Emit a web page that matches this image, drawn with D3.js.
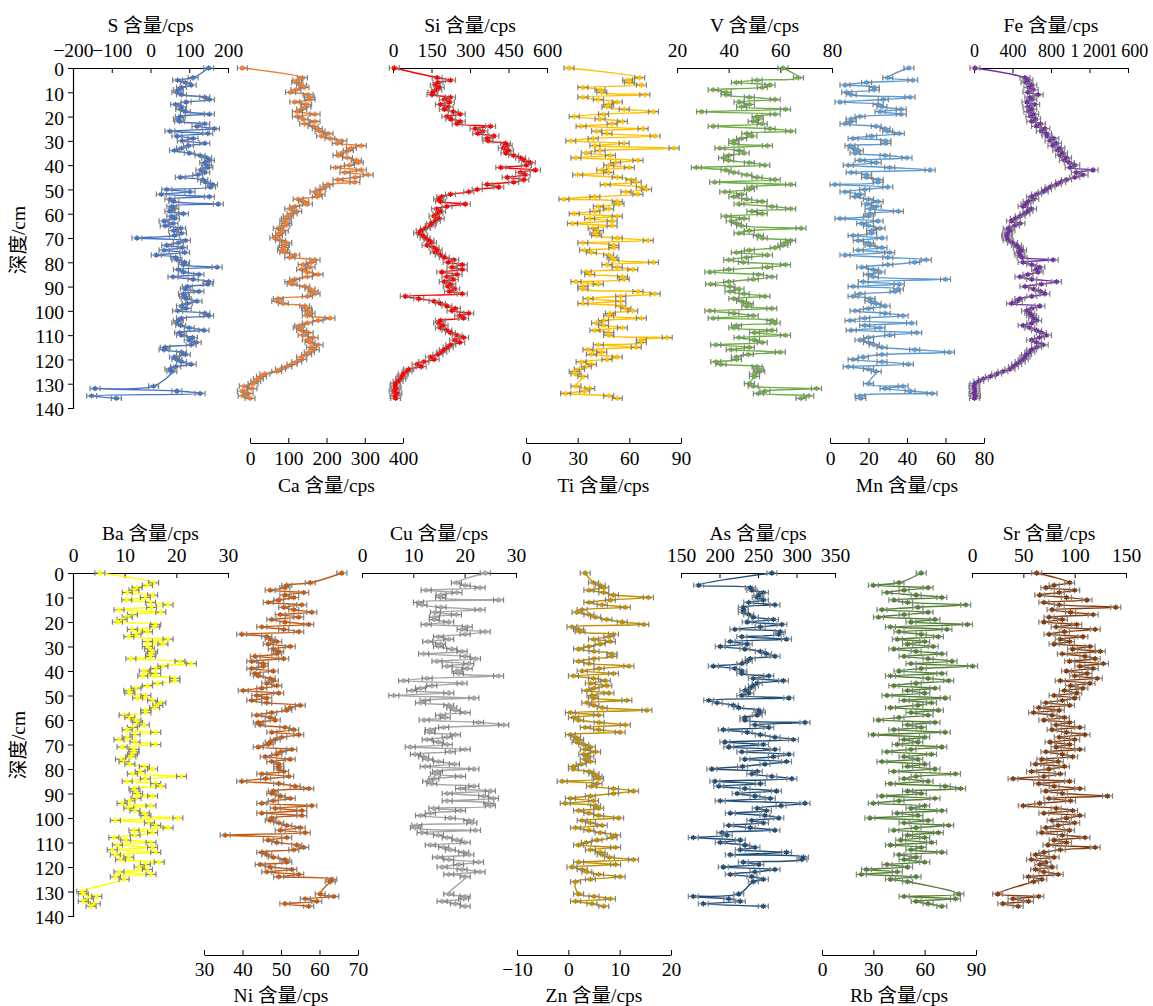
<!DOCTYPE html>
<html><head><meta charset="utf-8">
<script src="https://cdn.jsdelivr.net/npm/d3@7"></script>
<style>
body{margin:0;background:#fff}
text{font-family:"Liberation Serif","Times New Roman","Noto Sans CJK SC",serif;fill:#000}
</style>
</head><body><svg id="c" width="1153" height="1006"></svg>
<script>
// ---------------- DATA ----------------
const depths = [0,
4,5,6,7,8,9,
10,11,12,13,14,15,16,17,18,19,
20,21,22,23,24,25,26,27,28,29,
30,31,32,33,34,35,36,37,38,39,
40,41,42,43,44,45,46,47,48,49,
50,51,52,53,54,55,56,57,58,59,
60,61,62,63,64,65,66,67,68,69,
70,71,72,73,74,75,76,77,78,79,
80,81,82,83,84,85,86,87,88,89,
90,91,92,93,94,95,96,97,98,99,
100,101,102,103,104,105,106,107,108,109,
110,111,112,113,114,115,116,117,118,119,
120,121,122,123,124,125,126,127,128,129,
130,131,132,133,134,135,136];

const S = [150,
110,70,90,105,80,72,
68,80,140,152,92,65,80,78,90,152,
77,72,75,140,120,165,50,148,68,110,
82,140,98,80,62,100,128,145,152,140,
145,148,130,140,122,77,135,142,160,155,
42,102,28,152,50,60,175,55,60,50,
85,55,62,35,58,38,78,60,80,62,
-35,90,72,42,82,35,88,15,65,68,
88,85,172,72,85,125,58,110,150,148,
95,90,125,85,88,92,120,95,80,92,
70,140,150,80,72,68,78,100,138,75,
80,108,100,118,105,38,35,80,90,62,
68,80,105,65,50,55,null,null,null,null,
null,8,-143,68,128,-152,-88];

const Ca = [-20,
137,125,122,135,141,120,
106,152,155,157,117,148,146,135,124,170,
124,139,170,143,165,176,183,204,187,209,
240,228,291,265,257,240,230,255,278,283,
260,224,291,248,309,275,230,274,204,196,
185,170,183,176,126,140,150,117,104,122,
110,100,95,91,96,91,74,87,80,72,
65,80,96,90,87,85,91,117,104,170,
160,139,157,135,150,178,150,117,104,110,
143,157,165,170,150,74,70,87,143,148,
150,157,150,209,178,150,130,126,135,152,
139,165,150,157,178,161,168,155,148,135,
135,122,110,96,80,70,39,30,22,15,
8,-15,5,-20,-5,-18,0];

const Si = [5,
172,224,175,165,180,170,
155,152,224,200,220,185,215,200,235,262,
210,225,262,250,380,320,350,330,393,367,
370,438,445,430,450,440,470,497,510,535,
520,420,555,497,515,445,510,470,367,412,
328,295,224,190,178,185,282,210,170,185,
175,160,180,165,150,145,126,110,100,115,
125,140,150,133,160,172,165,185,200,237,
215,270,230,270,190,250,210,235,200,225,
215,240,220,270,48,100,160,185,210,243,
230,295,260,275,185,178,195,185,210,224,
250,275,240,260,225,215,200,190,175,146,
160,120,94,110,61,55,40,35,30,20,
10,8,12,5,15,8,10];

const Ti = [25,
66,59,60,67,33,43,
44,69,33,42,53,48,47,57,74,45,
28,43,56,50,32,68,41,47,75,39,
26,57,40,86,43,35,49,29,65,52,
48,60,44,48,30,53,61,64,46,67,
70,58,65,40,22,53,54,42,48,40,
28,53,37,50,27,50,39,42,40,41,
53,71,33,51,51,34,38,48,50,51,
74,47,53,62,35,37,56,57,29,42,
33,33,65,75,55,36,55,33,55,58,
62,49,48,67,45,41,45,56,40,48,
48,82,67,67,42,64,36,44,38,53,
47,32,38,35,31,28,29,33,null,null,
null,29,37,34,23,48,53];

const V = [61,
67,51,43,56,53,34,
39,39,48,58,44,48,45,62,29.5,58,
51,51.5,49.5,53,34,56,64,47,49,45,
42,42,55,36.6,44,46,40,38,40,48,
54,27.5,39,42,47,51,58,34.6,64,49,
48,38.5,45,42,47,53,44,56.7,64,49,
53,39,46,41,43,45,68,48,44,51.5,
53,64,62,61,58,48,43,55,47,40,
45.7,62,55,40,32.7,51.5,56.7,49.5,40,33,
40.5,44,40.5,46,54,42,45,47.6,47,56.7,
32.7,42,49.5,34,56.7,58,43,42,56.7,50,
62,44,50,53,35,48,41,60,47.6,43,
43,35,37,51,51.5,52,50,50,null,null,
48,49.5,74,54,51.5,71,68];

const Mn = [41,
30,43,19,7.8,23,23,
8.7,11,41.6,27.7,5.2,25,27,37,26,37,
15.6,11,11,7.8,24,28.6,30,36,21.6,12,
29,29,10.4,12,14.7,13,28.6,40,15.6,24,
9.5,31,52,11,19,19,25,25,2.6,30,
18,7.8,15.6,13,20,25,19,24,20.8,35.5,
20.8,20,5.2,25,16.5,20,26,21.6,21.6,12,
27,14.7,20,20.8,27,14.7,31,7.8,30,50,
44,30,16.5,22.5,26,20,22.5,60,17.3,36,
12,35.5,33.8,15.6,12,20.8,20.8,24,28.6,20,
13,28.6,38,18,10.4,42.4,18,26,11,45,
31,20,15.6,20,23,27,44,62,27,17.3,
12,27,40.7,9.5,20,24,null,null,null,null,
20,38,28.6,41.6,53,15.6,16];

const Fe = [10,
529,560,540,600,570,615,
560,667,580,600,550,630,560,600,570,620,
590,640,600,690,650,736,700,753,760,830,
790,857,820,892,870,920,900,961,940,990,
1047,1000,1237,1064,1133,1047,961,900,857,790,
753,719,650,598,620,563,540,511,598,560,
529,480,430,390,477,420,356,373,350,339,
345,356,400,442,460,494,470,477,500,823,
511,600,684,650,667,560,477,600,857,700,
529,620,690,736,600,477,450,390,684,600,
546,580,598,620,650,600,511,580,650,700,
753,680,598,650,719,650,598,580,546,530,
511,480,442,410,373,300,235,170,97,50,
10,0,5,10,0,15,5];

const Ba = [5.2,
15.6,14.4,12.4,11.8,10.5,15.4,
14,10.4,15,18.4,15.2,8.9,17,11.5,10.5,9.5,
8.6,16,15.8,11.5,14.4,12.2,10.8,18.4,14.4,17.4,
14.4,14.8,15.4,15.1,15,11.2,20.7,22.9,17.4,16,
13.8,16,13.5,19.7,19.7,16.4,14.4,12.2,10.8,11,
14.1,12.5,15.4,17,16.4,15.8,14.1,14.1,9.9,11,
12.2,12.5,13.8,11.5,10.5,16,12,10.5,8.9,12,
16,9.5,11.8,11.8,11.5,11.2,9.2,9.9,11,13.8,
15.4,13,11.5,21,14,10.5,16,17,11.8,12,
12.5,15.4,12.2,11,9.5,15.1,10.8,12,13.8,14.1,
20.3,8.2,14.8,16,18.4,11.8,15.4,12,7.9,10.2,
15.1,8.6,15.4,7.6,16,8.2,10.8,9.2,16.7,14,
12.8,14.4,8.9,15.1,8.2,9.9,null,null,null,null,
1.7,2,4.6,3,2,4.3,3.5];

const Ni = [65.8,
57.6,51.5,51,47.2,55.9,51,
53.3,49.4,46.7,55.4,50.7,53.3,58,49.8,54.6,47.6,
51,57.2,45,50.7,54.6,39.8,46.3,47.2,48.9,46.7,
52.4,48,49.4,48.9,43.3,50.7,42.4,45.4,45.4,42.4,
48,43.3,44.1,47.2,48,46.3,48.9,45,40.2,49.4,
43.7,46.3,42.4,46.3,55,52.4,51.5,47.6,43.7,47.2,
48.5,44.1,44.6,51,53.3,47.6,54.6,50.2,48.5,47.2,
46.7,44.1,52.8,50,48.9,45.9,52.4,47.6,49.4,49.4,
49.4,50.7,45,52,46,39.8,49.4,53.7,57.2,48,
47.6,49.8,52.4,48,45,58,48.5,55.4,45,55.4,
47.6,47.2,49.4,51.5,55,49.8,56.3,35.5,51.5,46.7,
48.9,54.1,55.9,53.3,45,46.3,48,51,51.5,44.6,
47.2,52.8,46.3,54.6,49.4,63.2,62.8,null,null,null,
null,60.2,63.7,56.3,59.3,51,57.2];

const Cu = [24,
18.4,20.1,23,12.5,18.5,15.4,
15.3,26.6,11,11.7,15.4,23,14.3,18.4,14.1,14.1,
16.9,12.5,20.5,19.5,24,20.1,14.9,16.9,12.8,15.3,
14.9,17.5,19.5,12,20.1,22.1,14.6,20.8,16.6,20.5,
18.5,18.8,26.6,12.7,8.1,19.5,13.6,11.4,9.7,16.9,
6.2,21.8,12.3,11.4,16.9,17.5,18.2,20.1,15.3,16.2,
12.1,22.7,27.6,15.9,13.3,13.2,18.2,16.6,12.7,14.9,
16.6,9.4,20.1,17.2,10.4,12,12.8,14.9,18,12.3,
21.8,14.7,14.3,19.2,14,12.8,13.6,21.8,19.2,25,
16.6,23.7,25.6,16.6,24.7,25,14,19.2,13.3,11.4,
17.2,20.8,21.4,10.7,10.4,22.1,11.7,14.9,16.6,18.5,
20.1,13.3,15.9,17.2,19.8,20.8,14.7,16.9,22.7,18.8,
15.6,19.5,23,16.9,20.1,null,null,null,null,null,
null,16.9,20.1,19.8,15.6,18.2,20.1];

const Zn = [3.3,
4.9,6.2,6.9,4,6.9,8.8,
15.6,8.2,4,6.6,11.1,2.7,1.7,4,5.3,7.5,
10.5,14.7,0.7,2,2.3,8.8,7.9,4.9,8.2,6.2,
4,2,5,8.5,8.5,5,2,4,11.8,6,
2.7,8.8,1,4.9,7.2,4.3,7.5,5,3.6,7.9,
4.6,4.9,11.4,3.6,5,6.6,15.3,0.4,5.9,1,
2,6,11.1,3.3,5.9,10.1,0.4,1.4,2,1.7,
3,4.3,3.3,5.3,3,4,3.3,4.3,2.5,1,
1,4,5,5.6,5.9,-1.2,5.6,4.5,8.8,12.7,
8.8,4.3,0.4,4.9,-0.6,5.3,5.9,2,4,5.9,
9.8,2.7,4.3,6.6,1.4,4,6.2,9.2,8.5,5.6,
3.5,2,9.2,4.3,6.2,6.6,8,12.7,2,9.2,
0.7,2.7,3.6,5.9,10.1,4.3,1.4,null,null,null,
null,2,5,8.2,1.4,4.6,6.9];

const As = [268,
null,173,240,242,257,251,
249,257,238,272,231,231,231,238,244,270,
236,281,253,220,279,277,229,287,214,236,
201,233,253,261,272,240,236,229,192,220,
229,229,264,244,283,249,244,240,233,238,
229,290,186,197,218,225,251,253,249,233,
233,311,246,264,205,236,253,272,296,207,
257,212,272,229,290,270,233,287,259,230,
190,249,242,268,294,194,253,199,233,274,
223,246,266,201,311,280,249,261,214,259,
277,242,257,212,240,272,203,210,166,227,
201,233,246,227,287,214,309,307,231,251,
205,272,246,214,242,257,244,null,null,null,
null,225,166,212,227,179,257];

const Rb = [58,
45,30,62,48,38,55,
70,42,50,84,56,35,62,48,33,66,
52,85,40,73,45,58,68,44,60,50,
65,42,55,70,48,62,76,52,88,58,
45,70,40,62,74,55,42,66,50,60,
38,72,48,64,56,40,68,52,62,45,
33,66,50,58,42,72,30,60,48,56,
44,70,52,38,64,48,56,35,60,50,
66,42,78,55,48,62,40,72,81,50,
58,35,66,45,30,60,52,70,44,56,
28,62,48,74,55,42,68,50,60,46,
64,40,58,52,70,45,55,48,60,38,
50,26,44,23,55,40,50,null,null,null,
null,80,48,78,55,62,70];

const Sr = [63,
95,80,72,100,85,66,
92,112,70,85,140,78,96,118,75,88,
70,102,82,120,90,75,108,86,95,80,
115,98,125,88,110,120,95,128,105,118,
92,112,100,122,86,115,96,108,90,102,
80,100,88,72,95,65,85,60,78,90,
70,95,82,105,78,92,110,85,100,76,
95,82,105,72,88,98,68,84,62,90,
75,58,86,70,40,95,65,80,105,72,
88,132,75,96,66,50,82,98,70,105,
92,78,100,84,72,95,68,88,110,80,
92,74,120,86,70,62,80,58,72,66,
78,62,70,84,55,68,60,null,null,null,
null,25,65,40,55,30,45];

const depthTicks = [0,10,20,30,40,50,60,70,80,90,100,110,120,130,140];

const elements = ["S","Ca","Si","Ti","V","Mn","Fe","Ba","Ni","Cu","Zn","As","Rb","Sr"];
const values = {S,Ca,Si,Ti,V,Mn,Fe,Ba,Ni,Cu,Zn,As,Rb,Sr};
const domains = {S:[-200,200],Ca:[0,400],Si:[0,600],Ti:[0,90],V:[20,80],Mn:[0,80],Fe:[0,1600],
  Ba:[0,30],Ni:[30,70],Cu:[0,30],Zn:[-10,20],As:[150,350],Rb:[0,90],Sr:[0,150]};
const tickVals = {S:[-200,-100,0,100,200],Ca:[0,100,200,300,400],Si:[0,150,300,450,600],Ti:[0,30,60,90],
  V:[20,40,60,80],Mn:[0,20,40,60,80],Fe:[0,400,800,1200,1600],Ba:[0,10,20,30],Ni:[30,40,50,60,70],
  Cu:[0,10,20,30],Zn:[-10,0,10,20],As:[150,200,250,300,350],Rb:[0,30,60,90],Sr:[0,50,100,150]};
const tickText = {S:["−200","−100","0","100","200"],Fe:["0","400","800","1\u2009200","1\u2009600"],Zn:["−10","0","10","20"]};

// ---------------- STYLE / LAYOUT ----------------
const colors = {S:"#4472C4",Ca:"#ED7D31",Si:"#FF0000",Ti:"#FFC000",V:"#70AD47",Mn:"#5B9BD5",Fe:"#7030A0",
  Ba:"#FFFF00",Ni:"#C55A11",Cu:"#A5A5A5",Zn:"#BF9000",As:"#1F4E79",Rb:"#548235",Sr:"#843C0C"};
const rows = [
  {y0:68, y1:408, bottom:443, topPad:11, botPad:8, topTitle:32, botTitle:492, yTitle:240},
  {y0:573, y1:916, bottom:955, topPad:11, botPad:7, topTitle:540, botTitle:1002, yTitle:745}
];
const layout = [
  {el:"S",row:0,x0:73,x1:228,axis:"top",yAxis:true},
  {el:"Ca",row:0,x0:250,x1:403,axis:"bottom"},
  {el:"Si",row:0,x0:393,x1:547,axis:"top"},
  {el:"Ti",row:0,x0:526,x1:681,axis:"bottom"},
  {el:"V",row:0,x0:677,x1:832,axis:"top"},
  {el:"Mn",row:0,x0:830,x1:984,axis:"bottom"},
  {el:"Fe",row:0,x0:974,x1:1128,axis:"top",tickFS:18},
  {el:"Ba",row:1,x0:73,x1:228,axis:"top",yAxis:true},
  {el:"Ni",row:1,x0:204,x1:358,axis:"bottom"},
  {el:"Cu",row:1,x0:362,x1:516,axis:"top"},
  {el:"Zn",row:1,x0:517,x1:671,axis:"bottom"},
  {el:"As",row:1,x0:681,x1:835,axis:"top"},
  {el:"Rb",row:1,x0:822,x1:976,axis:"bottom"},
  {el:"Sr",row:1,x0:972,x1:1126,axis:"top"}
];

const svg = d3.select("#c");
const FS = 19.5;

layout.forEach(p => {
  const r = rows[p.row];
  const x = d3.scaleLinear().domain(domains[p.el]).range([p.x0, p.x1]);
  const y = d3.scaleLinear().domain([0,140]).range([r.y0, r.y1]);
  const g = svg.append("g");
  const vals = values[p.el];
  const pts = depths.map((d,i)=>({d, v: vals[i]})).filter(o => o.v !== null && o.v !== undefined);
  const col = colors[p.el];
  const fmt = tickText[p.el] ? (d,i)=>tickText[p.el][i] : d3.format("d");
  const tfs = p.tickFS || FS;

  if (p.axis === "top") {
    const ax = g.append("g").attr("transform",`translate(0,${r.y0})`)
      .call(d3.axisTop(x).tickValues(tickVals[p.el]).tickFormat(fmt).tickSizeOuter(0).tickSize(0).tickPadding(r.topPad));
    ax.selectAll(".tick").append("line").attr("y2",5).attr("stroke","#000");
    ax.selectAll("text").attr("font-size",tfs).attr("font-family","Liberation Serif");
    ax.select(".domain").attr("stroke","#000").attr("stroke-width",1.2);
    g.append("text").attr("x",(p.x0+p.x1)/2).attr("y",r.topTitle).attr("text-anchor","middle")
      .attr("font-size",FS).text(`${p.el} 含量/cps`);
  } else {
    const ax = g.append("g").attr("transform",`translate(0,${r.bottom})`)
      .call(d3.axisBottom(x).tickValues(tickVals[p.el]).tickFormat(fmt).tickSizeOuter(0).tickSize(0).tickPadding(r.botPad));
    ax.selectAll(".tick").append("line").attr("y2",-5).attr("stroke","#000");
    ax.selectAll("text").attr("font-size",tfs).attr("font-family","Liberation Serif");
    ax.select(".domain").attr("stroke","#000").attr("stroke-width",1.2);
    g.append("text").attr("x",(p.x0+p.x1)/2).attr("y",r.botTitle).attr("text-anchor","middle")
      .attr("font-size",FS).text(`${p.el} 含量/cps`);
  }
  if (p.yAxis) {
    const ay = g.append("g").attr("transform",`translate(${p.x0},0)`)
      .call(d3.axisLeft(y).tickValues(depthTicks).tickSizeOuter(0).tickSize(5).tickPadding(4));
    ay.selectAll("text").attr("font-size",FS).attr("font-family","Liberation Serif").attr("dy","0.4em");
    ay.select(".domain").attr("stroke","#000").attr("stroke-width",1.2);
    g.append("text").attr("transform",`translate(25,${r.yTitle}) rotate(-90)`).attr("text-anchor","middle")
      .attr("font-size",FS).text("深度/cm");
  }

  const line = d3.line().x(o=>x(o.v)).y(o=>y(o.d)).curve(d3.curveCatmullRom.alpha(0.5));
  g.append("path").datum(pts).attr("d",line).attr("fill","none").attr("stroke",col).attr("stroke-width",1.4);

  const mk = g.append("g").selectAll("g").data(pts).join("g")
    .attr("transform",o=>`translate(${x(o.v)},${y(o.d)})`);
  mk.append("path").attr("d","M-5,0H5M-5,-2.8V2.8M5,-2.8V2.8").attr("stroke","#808080").attr("stroke-width",1.2).attr("fill","none");
  mk.append("path").attr("d",d3.symbol(d3.symbolAsterisk,20)).attr("stroke",col).attr("stroke-width",1.4).attr("fill","none");
  mk.append("circle").attr("r",1.5).attr("fill",col);
});

const bad = elements.filter(e => values[e].length !== depths.length);
if (bad.length) svg.append("text").attr("x",500).attr("y",500).style("fill","red").text("LEN " + bad.map(e=>e+values[e].length).join(","));
</script>
</body></html>
